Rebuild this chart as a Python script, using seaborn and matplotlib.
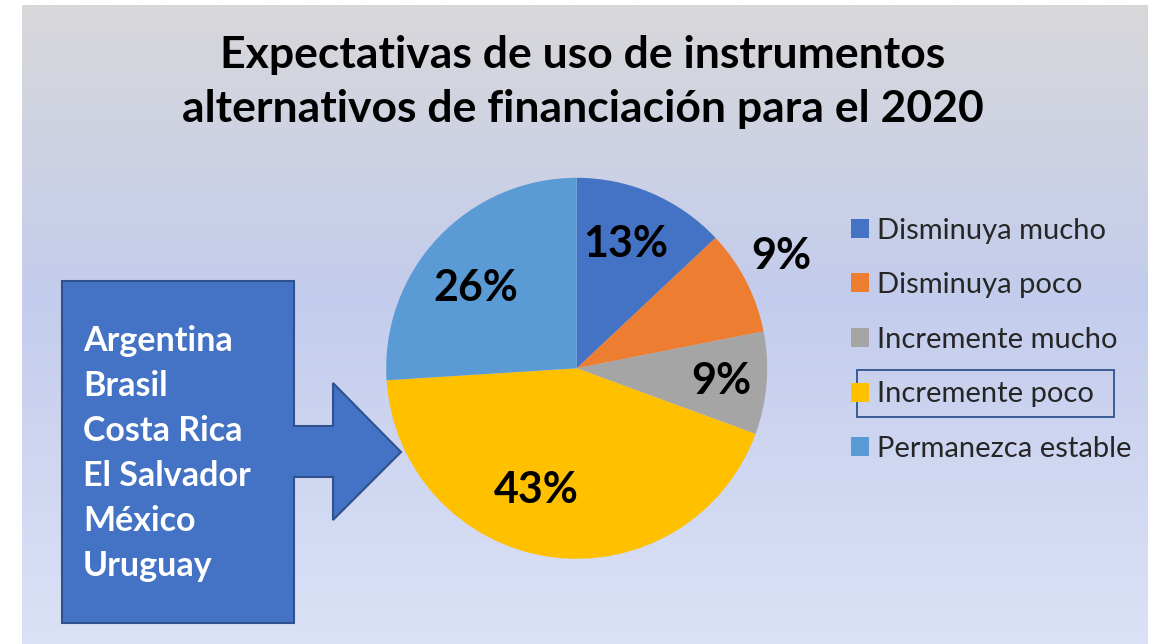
import numpy as np
import matplotlib
matplotlib.use('Agg')
import matplotlib.pyplot as plt
from matplotlib.colors import LinearSegmentedColormap
from matplotlib.patches import Polygon, Rectangle
import seaborn as sns

# data
categorias = ['Disminuya mucho', 'Disminuya poco', 'Incremente mucho',
              'Incremente poco', 'Permanezca estable']
valores = [13.0, 8.9, 8.7, 43.4, 26.0]
paises = ['Argentina', 'Brasil', 'Costa Rica', 'El Salvador', 'México', 'Uruguay']
titulo = 'Expectativas de uso de instrumentos\nalternativos de financiación para el 2020'

sns.set_theme(style='white')
plt.rcParams['font.family'] = ['Lato', 'DejaVu Sans']
colores = sns.color_palette(['#4472C4', '#ED7D31', '#A5A5A5', '#FFC000', '#5B9BD5'])

W, H = 1154, 644
fig = plt.figure(figsize=(W / 100, H / 100), dpi=100)
fig.patch.set_facecolor('white')

# background panel with vertical gradient (pixel coordinates)
bg = fig.add_axes([0, 0, 1, 1])
bg.set_xlim(0, W)
bg.set_ylim(H, 0)
bg.axis('off')
cmap = LinearSegmentedColormap.from_list(
    'fondo', [(0, '#D8D8DA'), (0.45, '#C3CCEC'), (1, '#DBE1F6')])
grad = np.linspace(0, 1, 256).reshape(-1, 1)
bg.imshow(grad, cmap=cmap, aspect='auto', extent=[22, 1148, H, 5], zorder=0)

# title
bg.text(583, 82, titulo, ha='center', va='center', fontsize=32,
        fontweight='bold', color='black', linespacing=1.42)

# arrow callout with country list
flecha = [(62, 281), (294, 281), (294, 426), (333, 426), (333, 383),
          (401, 452), (333, 520), (333, 477), (294, 477), (294, 623),
          (62, 623)]
bg.add_patch(Polygon(flecha, closed=True, facecolor='#4472C4',
                     edgecolor='#2F528F', linewidth=1.5, zorder=2))
for i, p in enumerate(paises):
    bg.text(83, 341 + i * 45, p, ha='left', va='center', fontsize=24.5,
            fontweight='bold', color='white', zorder=3)

# pie
cx, cy, r = 576.7, 368.3, 190.5
ax = fig.add_axes([(cx - r) / W, (H - cy - r) / H, 2 * r / W, 2 * r / H])
wedges, texts, autotexts = ax.pie(
    valores, colors=colores, startangle=90, counterclock=False,
    autopct='%.0f%%', pctdistance=0.7, wedgeprops=dict(linewidth=0),
    textprops=dict(fontsize=31, fontweight='bold', color='black'))
ax.set_xlim(-1, 1)
ax.set_ylim(-1, 1)
ax.set_aspect('equal')

# label positions (pixels)
pos_etiquetas = [(626, 244), (781, 256), (721, 381), (536, 490), (476, 288)]
for t, (px, py) in zip(autotexts, pos_etiquetas):
    t.set_position(((px - cx) / r, (cy - py) / r))

# legend
leg = fig.legend(wedges, categorias, loc='upper left',
                 bbox_to_anchor=(836 / W, 1 - 203 / H), frameon=False,
                 fontsize=21, handlelength=0.62, handleheight=0.62,
                 handletextpad=0.3, labelspacing=0.98, borderpad=0)

# selection box around one legend entry
bg.add_patch(Rectangle((857, 370), 257, 47, fill=False,
                       edgecolor='#2F528F', linewidth=1.3, zorder=4))

fig.savefig('out.png', dpi=100, facecolor=fig.get_facecolor())
